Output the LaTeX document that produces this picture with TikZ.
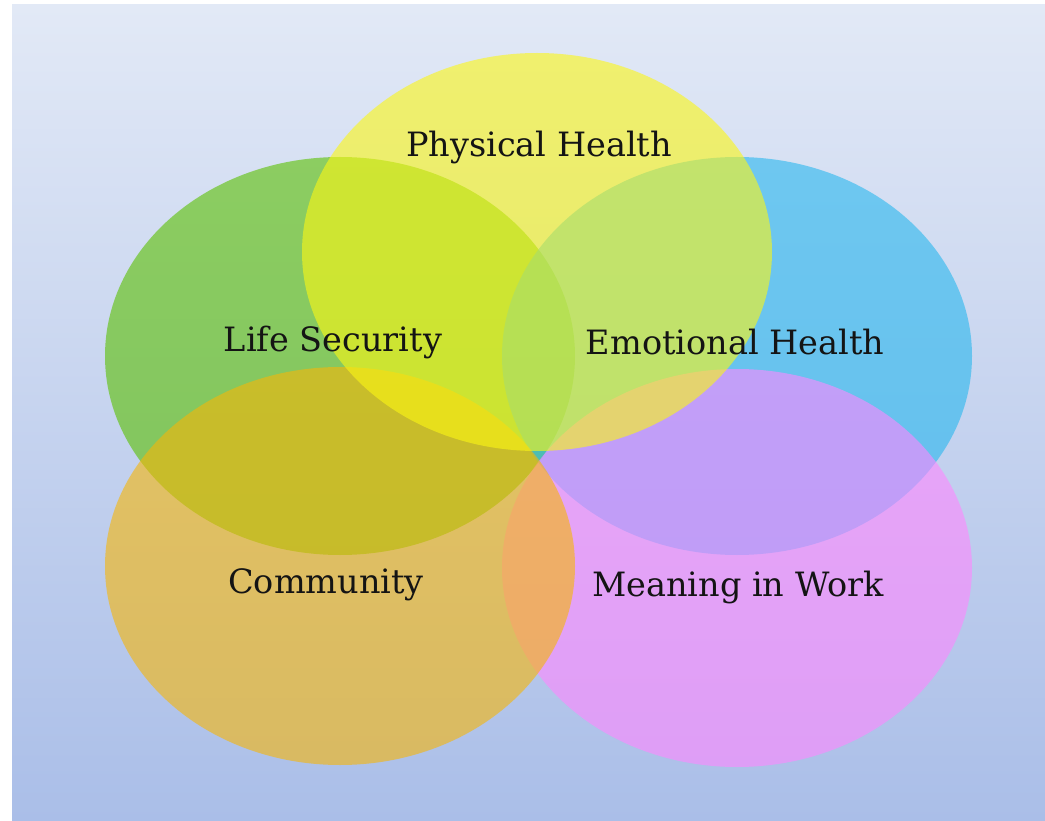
\documentclass[tikz,border=0pt]{standalone}
\usepackage{fontspec}
\setmainfont{DejaVu Serif}
\usepackage{tikz}
\usetikzlibrary{shapes.geometric}

\definecolor{bgtop}{RGB}{226,233,246}
\definecolor{bgbottom}{RGB}{170,190,232}
\definecolor{lsgreen}{RGB}{90,192,0}
\definecolor{ehblue}{RGB}{40,183,238}
\definecolor{mwpink}{RGB}{255,135,255}
\definecolor{cmorange}{RGB}{246,182,8}
\definecolor{phyellow}{RGB}{252,247,20}

\begin{document}
\begin{tikzpicture}[x=1pt,y=-1pt,
    blob/.style={ellipse, minimum width=470pt, minimum height=398pt,
      inner sep=0pt, fill opacity=0.6},
    lbl/.style={font=\fontsize{33.5}{38}\selectfont, text=black!92}]
      \useasboundingbox (0,0) rectangle (1045,821);
      \shade[top color=bgtop, bottom color=bgbottom] (12,5) rectangle (1045,821);

      \node[blob, fill=lsgreen] (life) at (340,356) {};
      \node[blob, fill=ehblue] (emo) at (737,356) {};
      \node[blob, fill=mwpink] (work) at (737,568) {};
      \node[blob, fill=cmorange] (comm) at (340,566) {};
      \node[blob, fill=phyellow] (phys) at (537,252) {};

      \node[lbl] (physlbl) at (539,147) {Physical Health};
      \node[lbl] (lifelbl) at (333,342) {Life Security};
      \node[lbl] (emolbl) at (735,342) {Emotional Health};
      \node[lbl] (commlbl) at (326,585) {Community};
      \node[lbl] (worklbl) at (738,587) {Meaning in Work};
    \end{tikzpicture}
\end{document}
